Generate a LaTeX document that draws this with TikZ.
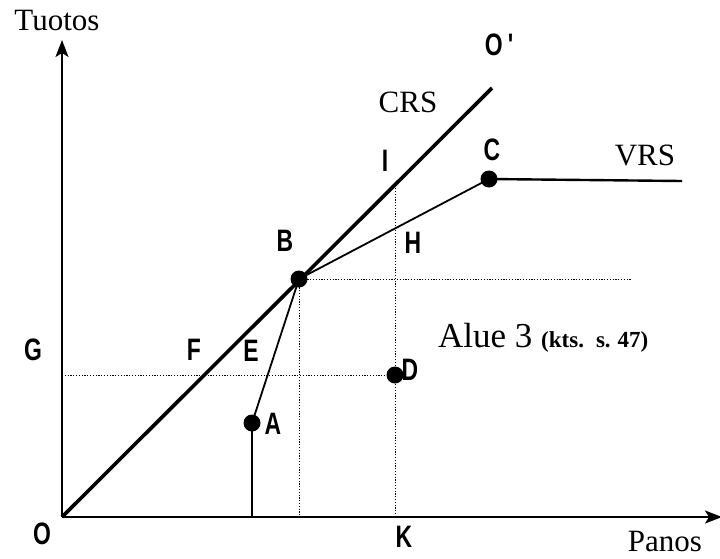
\documentclass[tikz,border=0pt]{standalone}
\usepackage{fontspec}
\setmainfont{Liberation Serif}
\newfontfamily\labfont[FakeStretch=0.74]{Liberation Sans Bold}
\usetikzlibrary{arrows.meta}
\tikzset{
  thickline/.style={line width=3.6pt},
  thinline/.style={line width=1.8pt},
  axis/.style={line width=1.7pt,-{Stealth[length=17pt,width=13pt,inset=4pt]}},
  dotline/.style={line width=0.9pt,dash pattern=on 1.2pt off 1.6pt},
  dot/.style={circle,fill=black,inner sep=0pt,minimum size=17pt},
  letter/.style={font=\labfont\fontsize{31}{31}\selectfont,inner sep=0pt},
  serifl/.style={font=\fontsize{31}{31}\selectfont,inner sep=0pt}
}
\begin{document}
\begin{tikzpicture}[x=1pt,y=-1pt]
\useasboundingbox (0,0) rectangle (720,558);
% coordinates
\coordinate (O) at (62,517);
\coordinate (Ytop) at (62,40);
\coordinate (Xend) at (722,517);
\coordinate (Oprime) at (492,88);
\coordinate (Bp) at (299,279);
\coordinate (Cp) at (489,179);
\coordinate (Vend) at (682,181);
\coordinate (Ap) at (252,423);
\coordinate (Aground) at (252,517);
\coordinate (Dp) at (395,375);
\coordinate (Kp) at (395,517);
\coordinate (Ip) at (395,184);
\coordinate (Gl) at (62,375);
\coordinate (Bright) at (632,279);
\coordinate (Bdown) at (299,517);
% dotted guides
\draw[dotline] (Gl) -- (Dp);
\draw[dotline] (Kp) -- (Ip);
\draw[dotline] (Bp) -- (Bright);
\draw[dotline] (Bp) -- (Bdown);
% axes
\draw[axis] (O) -- (Ytop);
\draw[axis] (O) -- (Xend);
% frontiers
\draw[thickline] (O) -- (Oprime);
\draw[thinline] (Aground) -- (Ap) -- (Bp) -- (Cp);
\draw[line width=2.4pt] (Cp) -- (Vend);
% points
\node[dot] (A) at (Ap) {};
\node[dot] (B) at (Bp) {};
\node[dot] (C) at (Cp) {};
\node[dot] (D) at (Dp) {};
% labels
\node[serifl] (tuotos) at (57,20) {Tuotos};
\node[serifl] (panos) at (665,541) {Panos};
\node[serifl] (crs) at (408,102) {CRS};
\node[serifl] (vrs) at (645,155) {VRS};
\node[letter] (lO') at (499,45) {O\,'};
\node[letter] (lI) at (385,161) {I};
\node[letter] (lC) at (492,150) {C};
\node[letter] (lB) at (285,241) {B};
\node[letter] (lH) at (413,243) {H};
\node[letter] (lG) at (33,350) {G};
\node[letter] (lF) at (194,350) {F};
\node[letter] (lE) at (251,351) {E};
\node[letter] (lA) at (273,424) {A};
\node[letter] (lD) at (410,370) {D};
\node[letter] (lO) at (42,534) {O};
\node[letter] (lK) at (404,537) {K};
\node[anchor=base west,inner sep=0pt,font=\fontsize{35}{35}\selectfont] (alue) at (438,347) {Alue 3 {\fontsize{23}{23}\selectfont\bfseries (kts.\hspace{12pt}s.\hspace{7pt}47)}};
\end{tikzpicture}
\end{document}
